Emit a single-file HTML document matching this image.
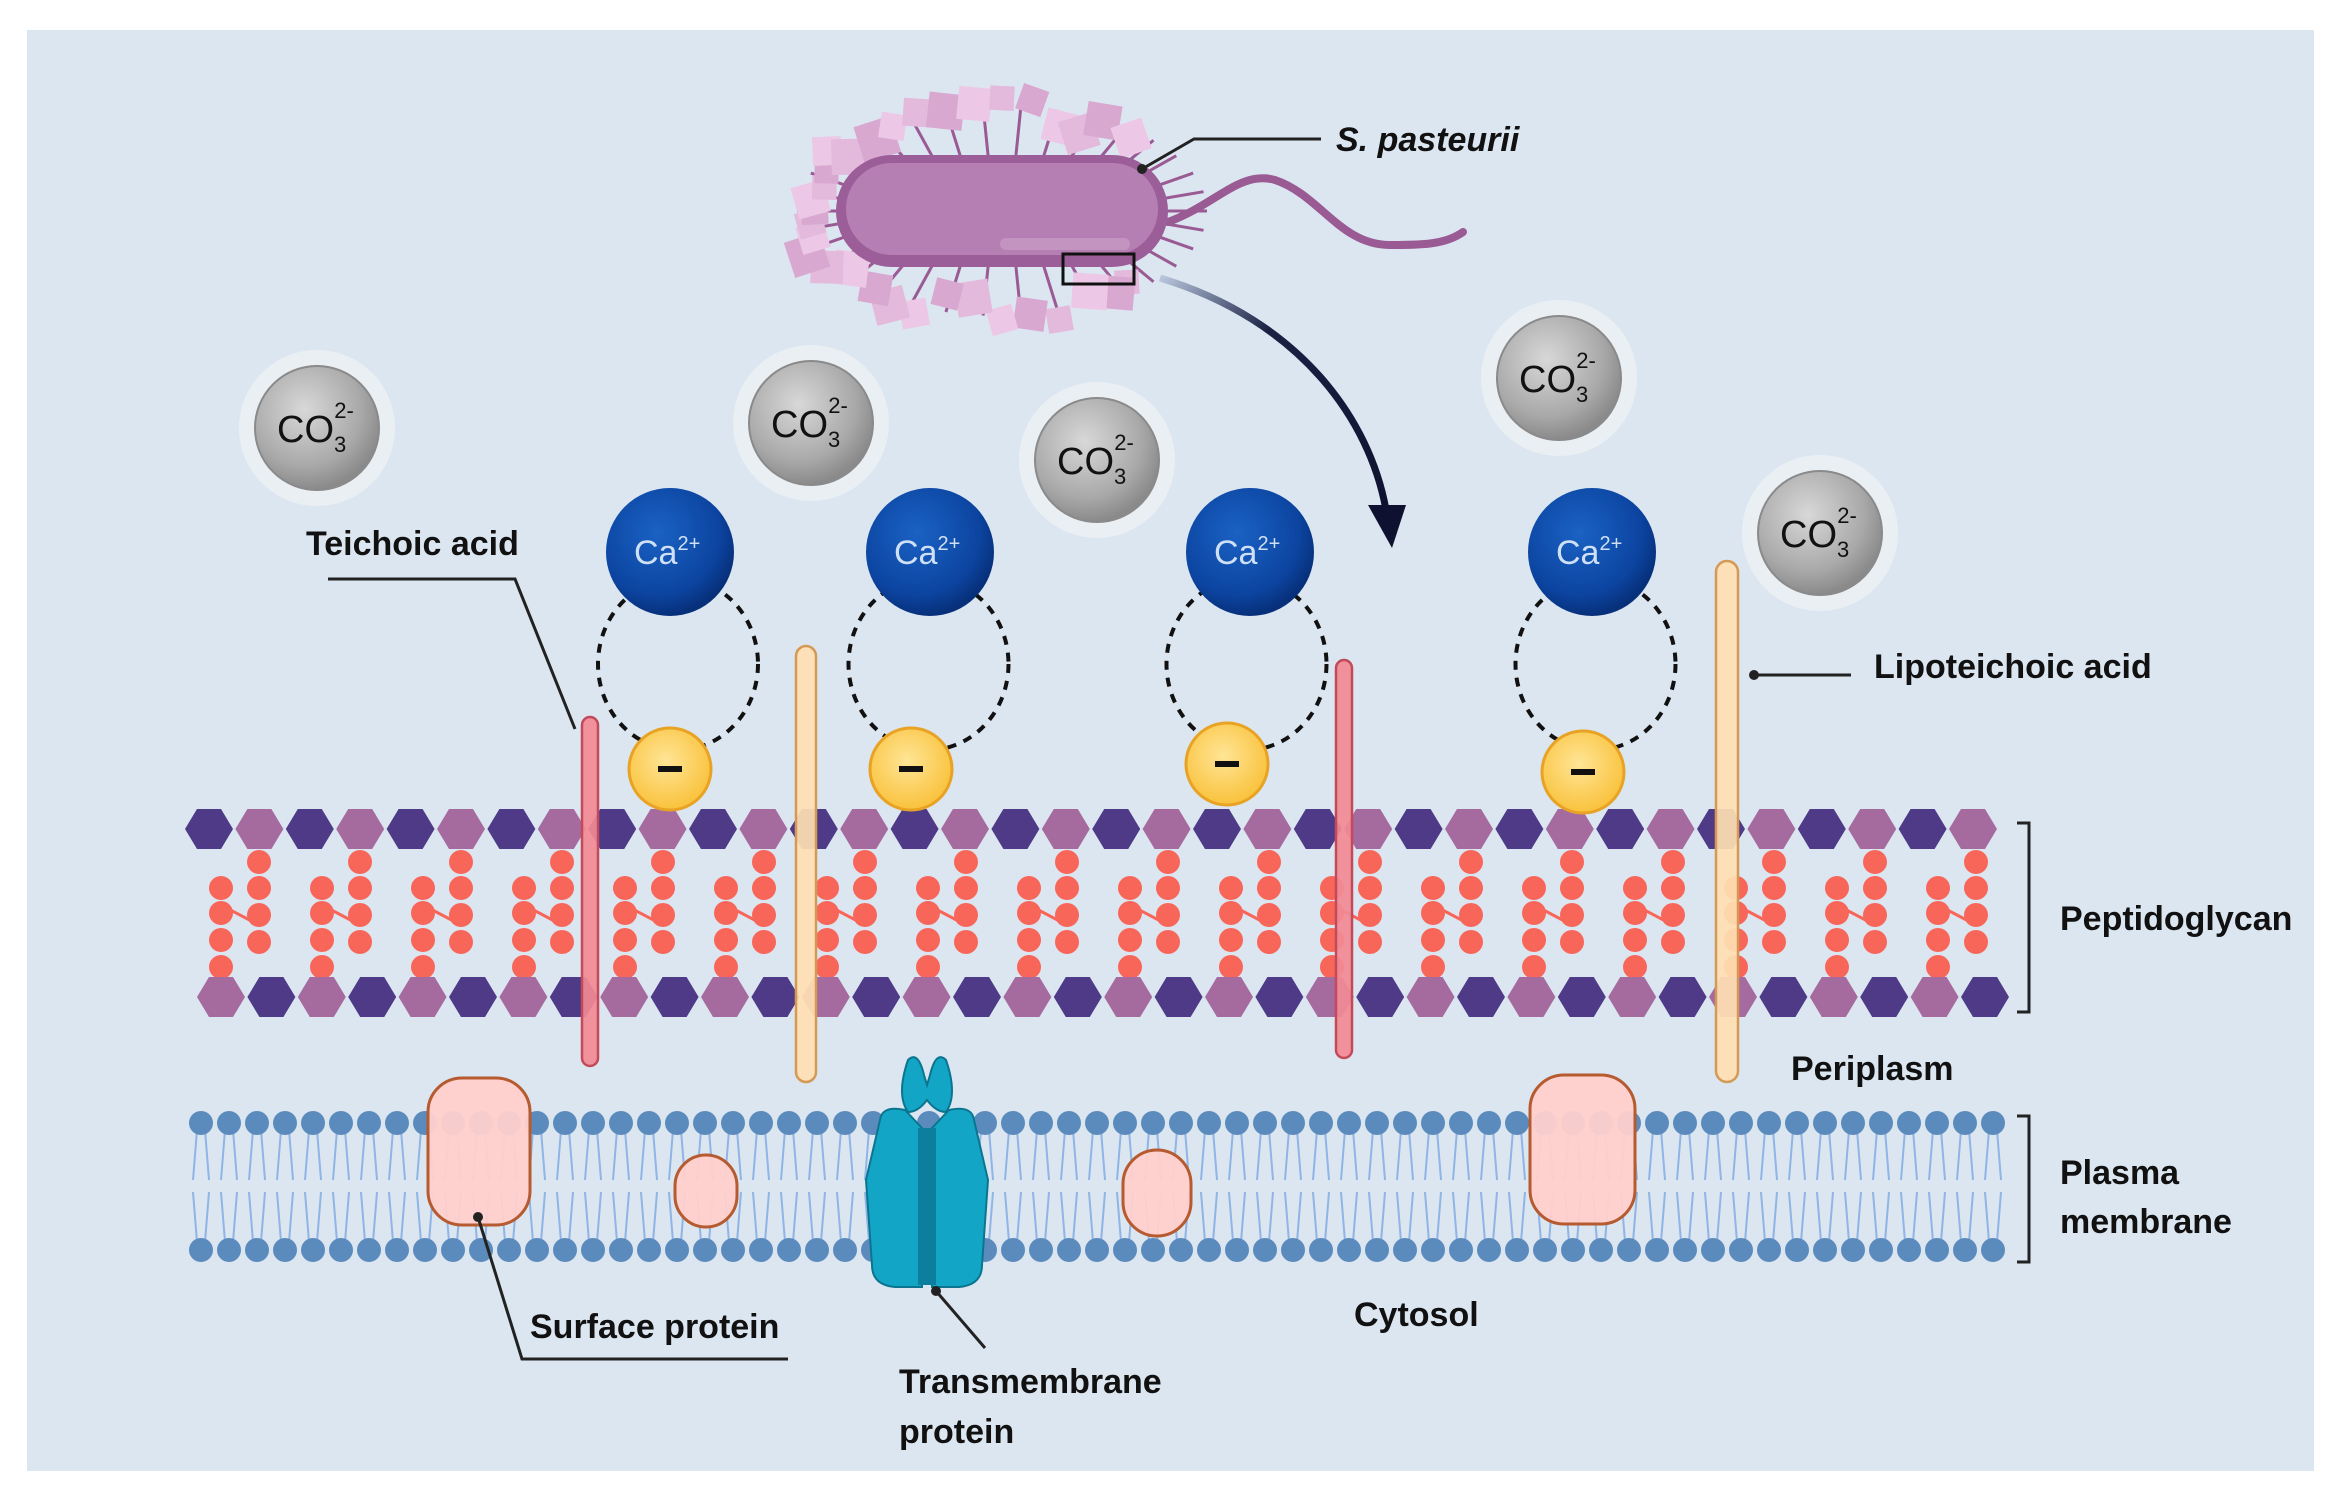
<!DOCTYPE html>
<html><head><meta charset="utf-8">
<style>
html,body{margin:0;padding:0;background:#fff;}
svg{display:block;}
text{font-family:"Liberation Sans",sans-serif;}
.lbl{font-size:34px;font-weight:bold;fill:#111;}
</style></head>
<body>
<svg id="s" width="2341" height="1501" viewBox="0 0 2341 1501" xmlns="http://www.w3.org/2000/svg">
<defs>
<radialGradient id="gco" cx="40%" cy="35%" r="65%"><stop offset="0" stop-color="#d8d8d8"/><stop offset="0.7" stop-color="#a9a9a9"/><stop offset="1" stop-color="#8a8a8a"/></radialGradient>
<radialGradient id="gca" cx="40%" cy="35%" r="65%"><stop offset="0" stop-color="#1a62c4"/><stop offset="0.75" stop-color="#0c44a0"/><stop offset="1" stop-color="#07307a"/></radialGradient>
<radialGradient id="gmi" cx="45%" cy="40%" r="60%"><stop offset="0" stop-color="#ffe596"/><stop offset="1" stop-color="#f9c23c"/></radialGradient>
<linearGradient id="garr" x1="0" y1="0" x2="1" y2="1"><stop offset="0" stop-color="#b9c6dc"/><stop offset="0.35" stop-color="#1a2244"/><stop offset="1" stop-color="#0e1230"/></linearGradient>
</defs>
<rect x="0" y="0" width="2341" height="1501" fill="#fff"/>
<rect x="27" y="30" width="2287" height="1441" fill="#dce6f1"/>
<g id="dyn"></g>

<!-- bacterium -->
<path d="M1168 222 C1215 205 1240 170 1275 180 C1320 195 1340 245 1390 245 C1420 245 1445 245 1463 232" stroke="#9a5a94" stroke-width="8" fill="none" stroke-linecap="round"/>
<g id="bact"></g>
<rect x="836" y="155" width="332" height="112" rx="56" fill="#9c5e98"/>
<rect x="846" y="163" width="312" height="92" rx="46" fill="#b67fb3"/>
<rect x="1000" y="238" width="130" height="12" rx="6" fill="#c494c0"/>
<rect x="1063" y="254" width="71" height="30" fill="none" stroke="#111" stroke-width="3"/>
<path d="M1142 169 L1194 139 L1321 139" stroke="#222" stroke-width="3" fill="none"/>
<circle cx="1142" cy="169" r="5" fill="#222"/>
<text x="1336" y="151" class="lbl" font-style="italic">S. pasteurii</text>

<!-- arrow -->
<path d="M1160 278 C1300 320 1370 420 1386 510" stroke="url(#garr)" stroke-width="7" fill="none"/>
<path d="M1368 505 L1406 505 L1392 548 Z" fill="#0e1230"/>

<!-- labels -->
<text x="306" y="555" class="lbl">Teichoic acid</text>
<path d="M328 579 L515 579 L575 729" stroke="#222" stroke-width="3" fill="none"/>
<text x="1874" y="678" class="lbl">Lipoteichoic acid</text>
<path d="M1754 675 L1851 675" stroke="#222" stroke-width="3"/><circle cx="1754" cy="675" r="5" fill="#222"/>
<text x="2060" y="930" class="lbl">Peptidoglycan</text>
<path d="M2017 823 L2029 823 L2029 1012 L2017 1012" stroke="#222" stroke-width="3" fill="none"/>
<text x="1791" y="1080" class="lbl">Periplasm</text>
<text x="2060" y="1184" class="lbl">Plasma</text>
<text x="2060" y="1233" class="lbl">membrane</text>
<path d="M2017 1116 L2029 1116 L2029 1262 L2017 1262" stroke="#222" stroke-width="3" fill="none"/>
<text x="1354" y="1326" class="lbl">Cytosol</text>
<text x="530" y="1338" class="lbl">Surface protein</text>
<path d="M478 1217 L522 1359 L788 1359" stroke="#222" stroke-width="3" fill="none"/>
<text x="899" y="1393" class="lbl">Transmembrane</text>
<text x="899" y="1443" class="lbl">protein</text>
<path d="M936 1291 L985 1348" stroke="#222" stroke-width="3"/>
</svg>
<script>
var g=document.getElementById('dyn');
var h='';
function hex(cx,cy,c){var w=24,hh=20,q=12;return '<polygon points="'+(cx-w)+','+cy+' '+(cx-q)+','+(cy-hh)+' '+(cx+q)+','+(cy-hh)+' '+(cx+w)+','+cy+' '+(cx+q)+','+(cy+hh)+' '+(cx-q)+','+(cy+hh)+'" fill="'+c+'"/>';}
for(var x=201;x<=1995;x+=28){
 h+='<path d="M'+(x-4)+' 1130 L'+(x-8)+' 1180 M'+(x+4)+' 1130 L'+(x+8)+' 1180 M'+(x-8)+' 1192 L'+(x-4)+' 1242 M'+(x+8)+' 1192 L'+(x+4)+' 1242" stroke="#8fb4e6" stroke-width="2"/>';
 h+='<circle cx="'+x+'" cy="1123" r="12" fill="#5b8bbd"/><circle cx="'+x+'" cy="1250" r="12" fill="#5b8bbd"/>';
}
for(var i=0;i<18;i++){var lx=221+i*101,rx=lx+38;
 h+='<line x1="'+lx+'" y1="905" x2="'+rx+'" y2="925" stroke="#f8665a" stroke-width="3"/>';
 [888,913,940,967].forEach(function(y){h+='<circle cx="'+lx+'" cy="'+y+'" r="12" fill="#f8665a"/>';});
 [862,888,915,942].forEach(function(y){h+='<circle cx="'+rx+'" cy="'+y+'" r="12" fill="#f8665a"/>';});
}
for(var i=0;i<36;i++){h+=hex(209+i*50.4,829,i%2?'#a56b9f':'#4e3a86');h+=hex(221+i*50.4,997,i%2?'#4e3a86':'#a56b9f');}
function rod(x,t,b,w,f,s){return '<rect x="'+(x-w/2)+'" y="'+t+'" width="'+w+'" height="'+(b-t)+'" rx="'+w/2+'" fill="'+f+'" stroke="'+s+'" stroke-width="2.5" fill-opacity="0.92"/>';}
h+=rod(590,717,1066,16,'#f28a94','#c24a5a');h+=rod(1344,660,1058,16,'#f28a94','#c24a5a');
h+=rod(806,646,1082,20,'#ffdfb3','#d49a55');h+=rod(1727,561,1082,22,'#ffdfb3','#d49a55');
function prot(x,y,w,hh){return '<rect x="'+x+'" y="'+y+'" width="'+w+'" height="'+hh+'" rx="'+Math.min(w/2,34)+'" fill="#ffd0cc" fill-opacity="0.95" stroke="#b65a30" stroke-width="3"/>';}
h+=prot(428,1078,102,147);h+=prot(675,1155,62,72);h+=prot(1123,1150,68,86);h+=prot(1530,1075,105,149);
h+='<circle cx="478" cy="1217" r="5" fill="#222"/>';
// transmembrane protein
h+='<path d="M927 1100 Q918 1112 908 1112 Q896 1095 908 1060 Q918 1050 924 1075 L927 1085 L930 1075 Q936 1050 946 1060 Q958 1095 946 1112 Q936 1112 927 1100 Z" fill="#13a5c5" stroke="#0b7590" stroke-width="2"/>';
h+='<path d="M880 1120 Q882 1105 905 1110 L922 1128 L922 1287 L895 1287 Q872 1285 872 1265 L866 1180 Z" fill="#13a5c5" stroke="#0b7590" stroke-width="2"/>';
h+='<path d="M974 1120 Q972 1105 949 1110 L932 1128 L932 1287 L959 1287 Q982 1285 982 1265 L988 1180 Z" fill="#13a5c5" stroke="#0b7590" stroke-width="2"/>';
h+='<rect x="918" y="1128" width="18" height="157" fill="#0d7f9e"/>';
h+='<circle cx="936" cy="1291" r="5" fill="#222"/>';
var ca=[[670,552],[930,552],[1250,552],[1592,552]],mi=[[670,769],[911,769],[1227,764],[1583,772]];
for(var i=0;i<4;i++){var cx=(ca[i][0]+mi[i][0])/2+8;
 h+='<ellipse cx="'+cx+'" cy="664" rx="80" ry="86" fill="none" stroke="#111" stroke-width="4" stroke-dasharray="9 8"/>';}
for(var i=0;i<4;i++){
 h+='<circle cx="'+mi[i][0]+'" cy="'+mi[i][1]+'" r="41" fill="url(#gmi)" stroke="#e8a325" stroke-width="3"/><rect x="'+(mi[i][0]-12)+'" y="'+(mi[i][1]-3)+'" width="24" height="6" fill="#111"/>';
 h+='<circle cx="'+ca[i][0]+'" cy="'+ca[i][1]+'" r="64" fill="url(#gca)"/><text x="'+(ca[i][0]-36)+'" y="'+(ca[i][1]+12)+'" font-size="34" fill="#cfe0f5">Ca<tspan font-size="20" dy="-14">2+</tspan></text>';
}
[[317,428],[811,423],[1097,460],[1559,378],[1820,533]].forEach(function(p){
 h+='<circle cx="'+p[0]+'" cy="'+p[1]+'" r="78" fill="#eef1f5" opacity="0.8"/><circle cx="'+p[0]+'" cy="'+p[1]+'" r="62" fill="url(#gco)" stroke="#8a8a8a" stroke-width="2"/>';
 h+='<text x="'+(p[0]-40)+'" y="'+(p[1]+14)+'" font-size="38" fill="#111">CO<tspan font-size="22" dy="10">3</tspan><tspan font-size="22" dx="-12" dy="-34">2-</tspan></text>';
});
g.innerHTML=h;
var b='',cols=['#e3b9dc','#d8a8d0','#edc8e6'];
var seed=3;function r(){seed=(seed*9301+49297)%233280;return seed/233280;}
for(var i=0;i<34;i++){var t=i/34*2*Math.PI;var x=1002+Math.cos(t)*(185+r()*30),y=211+Math.sin(t)*(80+r()*35);
 b+='<line x1="'+(1002+Math.cos(t)*150)+'" y1="'+(211+Math.sin(t)*55)+'" x2="'+(1002+Math.cos(t)*205)+'" y2="'+(211+Math.sin(t)*105)+'" stroke="#9a5a94" stroke-width="3"/>';}
for(var i=0;i<44;i++){var t=i/44*2*Math.PI;if(Math.cos(t)>0.75)continue;var x=1002+Math.cos(t)*(185+r()*30),y=211+Math.sin(t)*(80+r()*35);
 var s=24+r()*14;b+='<rect x="'+(x-s/2)+'" y="'+(y-s/2)+'" width="'+s+'" height="'+s+'" fill="'+cols[i%3]+'" transform="rotate('+(r()*40-20)+' '+x+' '+y+')"/>';}
document.getElementById('bact').innerHTML=b;
</script>
</body></html>
